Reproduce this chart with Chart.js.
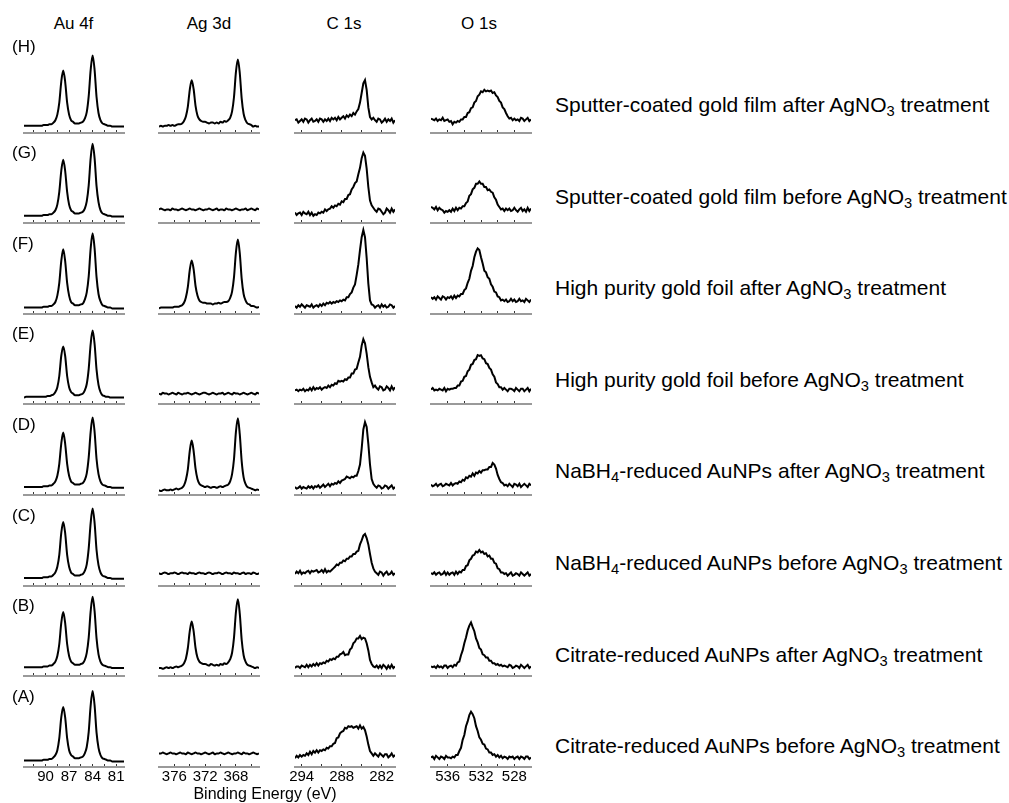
<!DOCTYPE html>
<html>
<head>
<meta charset="utf-8">
<script src="https://cdn.jsdelivr.net/npm/chart.js@4.4.1/dist/chart.umd.min.js"></script>
<style>
body{margin:0;background:#fff}
#fig{position:relative;width:1009px;height:803px;overflow:hidden;font-family:"Liberation Sans",Arial,sans-serif;color:#000}
#fig canvas{position:absolute}
.t{position:absolute;white-space:nowrap;line-height:1}
sub{font-size:70%;vertical-align:-0.3em;line-height:0}
</style>
</head>
<body>
<div id="fig"></div>
<script>
// binding energy grids (eV) of each region
const auEnergy = [80,80.25,80.5,80.75,81,81.25,81.5,81.75,82,82.25,82.5,82.75,83,83.25,83.5,83.75,84,84.25,84.5,84.75,85,85.25,85.5,85.75,86,86.25,86.5,86.75,87,87.25,87.5,87.75,88,88.25,88.5,88.75,89,89.25,89.5,89.75,90,90.25,90.5,90.75,91,91.25,91.5,91.75,92,92.25,92.5,92.75]
const agEnergy = [365,365.25,365.5,365.75,366,366.25,366.5,366.75,367,367.25,367.5,367.75,368,368.25,368.5,368.75,369,369.25,369.5,369.75,370,370.25,370.5,370.75,371,371.25,371.5,371.75,372,372.25,372.5,372.75,373,373.25,373.5,373.75,374,374.25,374.5,374.75,375,375.25,375.5,375.75,376,376.25,376.5,376.75,377,377.25,377.5,377.75,378]
const cEnergy = [280,280.25,280.5,280.75,281,281.25,281.5,281.75,282,282.25,282.5,282.75,283,283.25,283.5,283.75,284,284.25,284.5,284.75,285,285.25,285.5,285.75,286,286.25,286.5,286.75,287,287.25,287.5,287.75,288,288.25,288.5,288.75,289,289.25,289.5,289.75,290,290.25,290.5,290.75,291,291.25,291.5,291.75,292,292.25,292.5,292.75,293,293.25,293.5,293.75,294,294.25,294.5,294.75,295]
const oEnergy = [526,526.2,526.4,526.6,526.8,527,527.2,527.4,527.6,527.8,528,528.2,528.4,528.6,528.8,529,529.2,529.4,529.6,529.8,530,530.2,530.4,530.6,530.8,531,531.2,531.4,531.6,531.8,532,532.2,532.4,532.6,532.8,533,533.2,533.4,533.6,533.8,534,534.2,534.4,534.6,534.8,535,535.2,535.4,535.6,535.8,536,536.2,536.4,536.6,536.8,537,537.2,537.4,537.6,537.8,538]

// Au 4f intensities (a.u.), samples H..A
const auH = [8,8,8,8,8,8,8,9,9,10,11,12,16,25,45,79,97,79,46,26,18,14,13,12,12,12,14,16,23,38,64,78,64,38,23,16,13,11,11,10,10,10,9,9,9,9,9,9,9,9,9,9]
const auG = [8,8,8,8,8,8,8,9,9,10,11,12,16,26,46,81,99,81,47,27,18,14,13,12,12,12,14,16,23,39,65,79,65,39,23,16,13,11,11,10,10,10,9,9,9,9,9,9,9,9,9,9]
const auF = [7,7,7,7,7,7,7,8,8,9,10,11,16,25,46,82,101,82,47,27,18,13,12,11,11,11,13,15,23,39,66,81,66,39,23,15,12,10,10,9,9,9,8,8,8,8,8,8,8,8,8,8]
const auE = [8,8,8,8,8,8,8,8,9,9,10,11,15,24,43,75,92,75,44,25,17,13,12,11,11,11,13,15,21,35,60,72,60,35,21,15,12,11,10,10,9,9,9,9,9,9,9,9,9,9,9,8]
const auD = [9,9,9,9,9,9,9,10,10,11,12,13,17,26,45,79,97,79,47,27,19,15,14,13,13,13,15,17,24,39,64,78,64,39,24,17,14,12,12,11,11,11,10,10,10,10,10,10,10,10,10,10]
const auC = [9,9,9,9,9,9,9,10,10,11,12,13,17,26,45,79,97,79,47,27,19,15,14,13,13,13,15,17,24,39,66,80,66,39,24,17,14,12,12,11,11,11,10,10,10,10,10,10,10,10,10,10]
const auB = [10,10,10,10,10,10,10,11,11,12,13,14,18,27,47,81,99,81,48,29,20,16,15,14,14,14,16,18,25,40,66,80,66,40,25,18,15,13,13,12,12,12,11,11,11,11,11,11,11,11,11,11]
const auA = [7,7,7,7,7,7,7,8,8,9,10,11,15,24,43,77,95,77,44,25,17,13,12,11,11,11,13,15,21,36,62,75,62,36,21,15,12,10,10,9,9,9,8,8,8,8,8,8,8,8,8,8]

// Ag 3d
const agH = [8,8,9,8,10,11,12,16,24,43,75,92,76,45,27,19,16,14,15,13,14,12,13,12,13,13,12,13,14,14,15,17,22,34,55,66,54,33,21,15,12,11,11,10,9,10,9,10,9,9,8,9,8]
const agG = [17,18,16,17,18,17,16,18,17,17,16,17,18,17,16,17,17,18,16,17,17,16,18,17,16,17,18,17,17,16,17,18,17,16,17,17,18,17,16,17,18,17,16,17,17,18,16,17,17,16,17,18,17]
const agF = [9,8,9,10,10,12,13,17,25,44,76,93,77,46,28,20,16,15,15,14,13,14,13,13,12,13,13,13,14,14,15,17,23,35,56,67,55,34,21,14,11,10,9,9,9,8,8,8,8,8,8,8,7]
const agE = [13,14,12,13,14,13,12,13,14,13,12,13,13,14,12,13,14,13,12,14,13,13,12,13,14,13,12,13,14,14,13,12,13,14,13,12,13,14,13,13,12,13,14,12,13,14,13,12,13,13,14,12,13]
const agD = [6,7,6,7,8,9,10,14,22,42,76,96,79,45,26,17,13,12,11,10,11,10,9,10,10,9,10,11,10,11,12,14,20,33,55,68,55,32,19,12,9,8,7,8,7,6,7,6,6,7,6,5,6]
const agC = [16,15,16,17,15,16,16,15,17,16,15,16,16,17,15,16,16,17,16,15,16,17,16,16,15,16,17,16,15,16,16,17,16,15,16,16,17,15,16,16,17,16,15,16,17,16,16,15,16,17,16,15,16]
const agB = [10,11,10,11,12,13,14,18,26,45,78,96,80,48,29,21,17,15,16,14,15,13,14,13,14,15,13,14,15,15,16,18,23,35,56,68,56,35,22,16,13,12,11,12,11,10,11,10,11,10,9,10,10]
const agA = [17,16,17,18,17,16,17,17,18,16,17,18,17,17,16,17,18,17,16,17,18,17,17,16,18,17,16,17,18,17,16,17,17,18,17,16,17,18,16,17,17,18,17,16,17,17,18,17,16,17,18,17,17]

// C 1s
const cH = [16,13,18,15,17,14,18,15,13,17,18,14,16,19,17,20,32,54,66,62,50,38,30,27,23,25,21,23,20,22,18,21,19,17,20,16,19,17,19,15,18,15,17,14,17,18,14,17,15,14,18,16,13,17,18,14,17,15,13,17,16]
const cG = [17,14,18,13,16,18,13,11,14,17,18,14,16,19,22,28,45,68,84,88,81,69,61,52,50,45,42,36,35,30,30,26,27,23,24,21,22,19,21,18,17,15,17,13,14,12,13,10,11,9,13,10,14,11,12,14,10,13,12,10,13]
const cF = [10,8,11,12,9,8,11,9,12,8,11,10,8,11,12,17,38,70,96,105,96,80,62,49,37,33,27,25,21,21,17,18,16,17,15,16,14,15,13,15,13,14,11,13,10,12,9,11,10,8,12,9,10,11,8,10,12,9,11,8,10]
const cE = [21,18,22,17,20,22,18,17,21,22,18,20,23,21,27,34,46,63,76,81,73,59,52,44,43,38,38,33,33,30,31,28,29,28,29,25,26,23,24,21,23,20,21,20,18,21,19,20,18,21,17,20,17,18,16,19,17,18,16,18,17]
const cD = [10,8,12,10,8,11,12,9,8,11,12,9,11,14,20,38,64,85,91,82,58,38,30,24,24,22,23,21,22,23,20,19,18,15,17,14,15,13,14,11,14,12,10,13,11,9,12,10,11,8,11,9,11,8,9,10,8,11,9,8,10]
const cC = [16,14,18,15,14,18,16,13,17,18,14,16,18,22,29,40,52,60,65,63,57,52,44,43,40,40,37,37,34,34,31,32,29,29,26,27,24,22,20,18,19,17,21,17,20,18,17,20,19,18,19,16,19,18,16,17,15,19,16,18,15]
const cB = [12,10,14,10,13,9,12,14,10,13,10,13,11,12,15,20,32,41,47,48,46,50,47,47,43,41,35,33,27,27,26,30,28,27,24,24,21,22,20,21,18,19,16,17,15,16,13,16,13,15,12,14,11,14,11,12,13,10,12,12,10]
const cA = [15,13,17,14,12,16,16,13,15,17,13,15,17,14,17,20,28,38,46,50,48,52,48,51,50,49,51,50,51,48,49,45,44,42,37,36,30,29,26,26,23,24,21,22,20,21,18,21,18,20,16,19,15,17,14,15,13,15,12,14,11]

// O 1s
const oH = [17,15,19,17,15,18,19,15,17,16,18,16,19,18,21,25,30,32,38,40,45,47,51,50,53,52,53,52,54,51,52,48,46,40,38,32,31,26,25,20,20,17,17,14,15,13,14,11,15,14,17,16,15,19,16,17,15,18,16,17,18]
const oG = [18,15,19,14,17,15,19,17,14,16,19,16,15,18,16,18,15,18,17,20,23,29,32,38,39,42,41,45,45,49,49,52,49,49,44,42,36,34,27,25,21,21,18,19,16,19,15,18,14,16,14,15,13,16,17,19,16,20,17,19,20]
const oF = [18,15,17,19,15,17,16,19,16,15,18,16,19,16,15,18,16,18,17,21,22,27,28,34,37,44,46,52,54,63,71,80,82,78,71,60,54,44,39,32,30,25,25,22,23,20,23,19,22,20,21,18,21,22,18,20,22,18,21,19,21]
const oE = [19,16,20,18,16,19,19,16,18,20,16,18,19,19,16,18,20,18,21,21,25,27,34,37,43,45,50,51,56,57,61,60,61,56,55,50,49,43,41,35,34,29,28,23,23,20,20,19,19,18,19,16,20,17,18,19,17,18,17,20,18]
const oD = [12,14,10,12,14,12,10,14,11,13,14,10,12,14,11,13,12,15,16,20,25,33,38,40,35,35,32,32,31,31,28,30,27,28,24,27,23,24,21,22,18,19,16,17,14,15,14,12,15,12,13,14,12,11,14,13,11,14,12,11,13]
const oC = [15,13,17,15,13,15,17,13,15,16,14,13,17,15,13,16,15,17,17,21,22,28,29,34,34,38,37,41,40,43,42,45,42,43,39,38,34,32,26,25,20,20,17,18,15,18,14,17,16,14,17,14,18,15,14,17,16,14,17,15,16]
const oB = [12,10,14,12,10,12,14,10,12,13,11,10,13,14,11,12,13,12,14,13,15,14,16,16,19,19,23,23,26,27,33,35,42,47,56,61,67,63,57,48,41,32,26,18,17,13,14,11,13,12,10,13,13,10,12,11,13,10,12,11,12]
const oA = [12,10,13,13,10,12,13,10,13,12,10,13,12,13,10,12,13,11,14,12,15,13,16,15,18,18,22,23,28,29,34,37,45,51,61,66,69,65,57,51,40,34,24,20,15,15,12,13,11,12,12,14,10,12,13,10,12,14,10,13,12]

// axis ticks and the ones that carry numbers
const auTicks = [81,82.5,84,85.5,87,88.5,90,91.5], auTickLabels = [90,87,84,81]
const agTicks = [366,368,370,372,374,376], agTickLabels = [376,372,368]
const cTicks = [282,285,288,291,294], cTickLabels = [294,288,282]
const oTicks = [528,530,532,534,536], oTickLabels = [536,532,528]

const regions = ['Au 4f','Ag 3d','C 1s','O 1s']
const rowLetters = ['H','G','F','E','D','C','B','A']
const samples = [
'Sputter-coated gold film after AgNO<sub>3</sub> treatment',
'Sputter-coated gold film before AgNO<sub>3</sub> treatment',
'High purity gold foil after AgNO<sub>3</sub> treatment',
'High purity gold foil before AgNO<sub>3</sub> treatment',
'NaBH<sub>4</sub>-reduced AuNPs after AgNO<sub>3</sub> treatment',
'NaBH<sub>4</sub>-reduced AuNPs before AgNO<sub>3</sub> treatment',
'Citrate-reduced AuNPs after AgNO<sub>3</sub> treatment',
'Citrate-reduced AuNPs before AgNO<sub>3</sub> treatment'
]

const columns = [
{x:auEnergy, rows:[auH,auG,auF,auE,auD,auC,auB,auA], min:80, max:92.75, ticks:auTicks, labels:auTickLabels, smooth:true},
{x:agEnergy, rows:[agH,agG,agF,agE,agD,agC,agB,agA], min:365, max:378, ticks:agTicks, labels:agTickLabels, smooth:true},
{x:cEnergy, rows:[cH,cG,cF,cE,cD,cC,cB,cA], min:280, max:295, ticks:cTicks, labels:cTickLabels, smooth:false},
{x:oEnergy, rows:[oH,oG,oF,oE,oD,oC,oB,oA], min:526, max:538, ticks:oTicks, labels:oTickLabels, smooth:false}
]

const FONT = '"Liberation Sans", Arial, sans-serif'
Chart.defaults.font.family = FONT

const fig = document.getElementById('fig')
const COL_LEFT = [24,159,295,431]
const PLOT_W = 100, PLOT_H = 88, AXIS_H = 30, PADX = 20
const axisY = r => Math.round(132.7 + 90.6*r)

function addText(html, left, top, size, extra){
  const d = document.createElement('div')
  d.className = 't'
  d.innerHTML = html
  d.style.left = left+'px'
  d.style.top = top+'px'
  d.style.fontSize = size+'px'
  if(extra) Object.assign(d.style, extra)
  fig.appendChild(d)
}

// one small chart per region and sample
columns.forEach((col,c)=>{
  col.rows.forEach((vals,r)=>{
    const cv = document.createElement('canvas')
    cv.width = PLOT_W+2*PADX
    cv.height = PLOT_H+AXIS_H
    cv.style.left = (COL_LEFT[c]-PADX)+'px'
    cv.style.top = (axisY(r)-PLOT_H)+'px'
    fig.appendChild(cv)
    const bottom = r===rowLetters.length-1
    new Chart(cv,{
      type:'line',
      data:{datasets:[{
        data:col.x.map((e,i)=>({x:e,y:vals[i]})),
        borderColor:'#000',
        borderWidth:2,
        pointRadius:0,
        tension:col.smooth?0.4:0,
        cubicInterpolationMode:col.smooth?'monotone':'default'
      }]},
      options:{
        responsive:false,
        animation:false,
        devicePixelRatio:1,
        events:[],
        layout:{padding:{left:PADX,right:PADX,top:0,bottom:0}},
        plugins:{legend:{display:false},tooltip:{enabled:false}},
        scales:{
          x:{
            type:'linear',
            reverse:true,
            min:col.min,
            max:col.max,
            afterBuildTicks:s=>{ s.ticks = col.ticks.map(v=>({value:v})) },
            afterFit:s=>{ s.height = AXIS_H },
            grid:{drawOnChartArea:false,drawTicks:true,tickLength:-3,tickColor:'#333',tickWidth:1},
            border:{display:true,color:'#9a9a9a',width:2},
            ticks:{
              autoSkip:false,maxRotation:0,minRotation:0,padding:4,color:'#000',
              font:{size:15,family:FONT},
              callback:v=>(bottom && col.labels.includes(v)) ? String(v) : ''
            }
          },
          y:{display:false,min:0,max:110}
        }
      }
    })
  })
})

// region headers
const headerCx = [73.5,209,344,479]
regions.forEach((h,c)=>addText(h, headerCx[c]-40, 15, 17, {width:'80px',textAlign:'center'}))

// sample letters and names
rowLetters.forEach((l,r)=>{
  const base = r===0 ? 52 : axisY(r)-64.5
  addText('('+l+')', 12, base-14.4, 17)
  addText(samples[r], 555, 111.7+91.6*r-17.8, 21)
})

addText('Binding Energy (eV)', 185, 786, 16, {width:'160px',textAlign:'center'})
</script>
</body>
</html>
